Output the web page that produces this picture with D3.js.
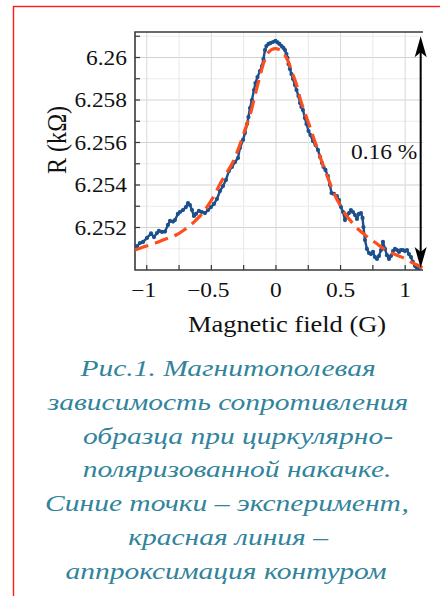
<!DOCTYPE html>
<html>
<head>
<meta charset="utf-8">
<script src="https://cdn.jsdelivr.net/npm/d3@7"></script>
<style>
  html, body { margin: 0; padding: 0; background: #ffffff; }
  svg { display: block; }
  svg text { font-family: "Liberation Serif", "Times New Roman", serif; }
</style>
</head>
<body>
<svg id="chart" width="440" height="596"></svg>
<script>
// Measured magnetoresistance: field (G) and resistance (kΩ)
const fieldData = [-1.091,-1.076,-1.053,-1.029,-0.998,-0.967,-0.944,-0.921,-0.906,-0.882,-0.859,-0.836,-0.820,-0.797,-0.782,-0.759,-0.743,-0.720,-0.697,-0.681,-0.666,-0.650,-0.635,-0.619,-0.596,-0.573,-0.550,-0.526,-0.503,-0.480,-0.457,-0.433,-0.410,-0.387,-0.364,-0.341,-0.317,-0.294,-0.279,-0.255,-0.240,-0.224,-0.213,-0.201,-0.186,-0.170,-0.159,-0.143,-0.124,-0.108,-0.097,-0.085,-0.074,-0.058,-0.043,-0.023,-0.004,0.012,0.027,0.043,0.058,0.070,0.081,0.089,0.097,0.108,0.120,0.132,0.147,0.159,0.174,0.186,0.197,0.209,0.224,0.236,0.252,0.267,0.286,0.306,0.325,0.341,0.356,0.368,0.383,0.402,0.418,0.430,0.449,0.472,0.488,0.503,0.519,0.534,0.550,0.565,0.580,0.596,0.611,0.627,0.642,0.658,0.670,0.677,0.689,0.704,0.720,0.735,0.751,0.766,0.782,0.797,0.813,0.828,0.844,0.859,0.875,0.890,0.906,0.921,0.937,0.952,0.967,0.983,0.998,1.014,1.029,1.045,1.060,1.076,1.091,1.107];
const resistData = [6.25113,6.25111,6.25127,6.25132,6.25151,6.25172,6.25155,6.25174,6.25184,6.25179,6.25181,6.25212,6.25231,6.25228,6.25235,6.25264,6.25273,6.25282,6.25296,6.25315,6.25306,6.25282,6.25254,6.25264,6.25278,6.25273,6.25268,6.25282,6.25296,6.25311,6.25334,6.25372,6.25395,6.25424,6.25466,6.25485,6.25508,6.25527,6.25574,6.25612,6.25645,6.25687,6.25720,6.25762,6.25800,6.25847,6.25880,6.25908,6.25936,6.25960,6.25993,6.26035,6.26054,6.26064,6.26068,6.26073,6.26078,6.26071,6.26064,6.26054,6.26045,6.26035,6.26016,6.25998,6.25969,6.25946,6.25922,6.25899,6.25871,6.25847,6.25819,6.25786,6.25767,6.25753,6.25715,6.25687,6.25654,6.25635,6.25607,6.25588,6.25565,6.25532,6.25504,6.25485,6.25471,6.25442,6.25400,6.25362,6.25358,6.25348,6.25329,6.25296,6.25273,6.25235,6.25254,6.25268,6.25282,6.25273,6.25259,6.25240,6.25264,6.25268,6.25245,6.25202,6.25141,6.25099,6.25080,6.25075,6.25085,6.25061,6.25052,6.25066,6.25094,6.25132,6.25099,6.25070,6.25052,6.25066,6.25089,6.25099,6.25094,6.25085,6.25094,6.25094,6.25089,6.25094,6.25075,6.25061,6.25038,6.25019,6.25009,6.25000];

// Lorentz-contour approximation
const fitField = [-1.091,-1.037,-0.975,-0.921,-0.875,-0.820,-0.766,-0.712,-0.666,-0.619,-0.573,-0.526,-0.480,-0.433,-0.387,-0.341,-0.294,-0.248,-0.201,-0.163,-0.124,-0.093,-0.062,-0.031,0,0.031,0.062,0.093,0.124,0.155,0.186,0.224,0.263,0.310,0.356,0.402,0.449,0.495,0.542,0.588,0.635,0.681,0.728,0.774,0.820,0.867,0.913,0.960,1.006,1.053,1.099,1.138];
const fitResist = [6.25094,6.25106,6.25118,6.25129,6.25141,6.25153,6.25167,6.25188,6.25209,6.25235,6.25264,6.25304,6.25348,6.25405,6.25452,6.25499,6.25565,6.25645,6.25729,6.25819,6.25913,6.25979,6.26021,6.26038,6.26042,6.26035,6.26016,6.25984,6.25932,6.25880,6.25809,6.25739,6.25673,6.25588,6.25508,6.25433,6.25362,6.25306,6.25259,6.25224,6.25193,6.25169,6.25146,6.25127,6.25106,6.25089,6.25075,6.25064,6.25052,6.25035,6.25021,6.25009];

// Axis ticks
const xMajorTicks = [-1, -0.5, 0, 0.5, 1];
const xTickLabels = ["\u22121", "\u22120.5", "0", "0.5", "1"];
const xMinorTicks = [-0.75, -0.25, 0.25, 0.75];
const yMajorTicks = [6.252, 6.254, 6.256, 6.258, 6.26];
const yTickLabels = ["6.252", "6.254", "6.256", "6.258", "6.26"];
const yMinorTicks = [6.251, 6.253, 6.255, 6.257, 6.259, 6.261];

// Amplitude marker
const ampField = 1.12;
const ampRange = [6.2501, 6.2610];
const ampLabel = "0.16 %";

const captionLines = [
  "Рис.1. Магнитополевая",
  "зависимость сопротивления",
  "образца при циркулярно-",
  "поляризованной накачке.",
  "Синие точки – эксперимент,",
  "красная линия –",
  "аппроксимация контуром"
];

const svg = d3.select("#chart");

svg.append("rect").attr("width", 440).attr("height", 596).attr("fill", "#ffffff");

// frame around the figure
svg.append("rect")
  .attr("x", 13.5).attr("y", 6.5).attr("width", 600).attr("height", 700)
  .attr("fill", "none").attr("stroke", "#ff1a1a").attr("stroke-width", 1.4);

const plot = { left: 135, right: 423, top: 32, bottom: 270 };
const x = d3.scaleLinear().domain([-1.091, 1.138]).range([plot.left, plot.right]);
const y = d3.scaleLinear().domain([6.25, 6.2612]).range([plot.bottom, plot.top]);

const g = svg.append("g");

// grid
g.selectAll(".gy-minor").data(yMinorTicks).join("line")
  .attr("x1", plot.left).attr("x2", plot.right)
  .attr("y1", d => y(d)).attr("y2", d => y(d))
  .attr("stroke", "#ebebeb").attr("stroke-width", 1);
g.selectAll(".gy-major").data(yMajorTicks).join("line")
  .attr("x1", plot.left).attr("x2", plot.right)
  .attr("y1", d => y(d)).attr("y2", d => y(d))
  .attr("stroke", "#d2d2d2").attr("stroke-width", 1);
g.selectAll(".gx-minor").data(xMinorTicks).join("line")
  .attr("x1", d => x(d)).attr("x2", d => x(d))
  .attr("y1", plot.top).attr("y2", plot.bottom)
  .attr("stroke", "#e8e8e8").attr("stroke-width", 1);
g.selectAll(".gx-major").data(xMajorTicks).join("line")
  .attr("x1", d => x(d)).attr("x2", d => x(d))
  .attr("y1", plot.top).attr("y2", plot.bottom)
  .attr("stroke", "#dadada").attr("stroke-width", 1);

// ticks pointing inward
const tickCol = "#333333";
g.selectAll(".ty").data(yMajorTicks.concat(yMinorTicks)).join("line")
  .attr("x1", plot.left).attr("x2", plot.left + 5)
  .attr("y1", d => y(d)).attr("y2", d => y(d))
  .attr("stroke", tickCol).attr("stroke-width", 1.2);
g.selectAll(".tx").data(xMajorTicks.concat(xMinorTicks)).join("line")
  .attr("x1", d => x(d)).attr("x2", d => x(d))
  .attr("y1", plot.bottom).attr("y2", plot.bottom - 5)
  .attr("stroke", tickCol).attr("stroke-width", 1.2);

// spines (top, left, bottom)
g.append("path")
  .attr("d", `M${plot.right},${plot.top}H${plot.left}V${plot.bottom}H${plot.right}`)
  .attr("fill", "none").attr("stroke", "#3a3a3a").attr("stroke-width", 1.6);

// text helper, glyphs slightly widened
function label(parent, tx, ty, txt, size, anchor, sx) {
  return parent.append("text")
    .attr("transform", `translate(${tx},${ty}) scale(${sx},1)`)
    .attr("text-anchor", anchor)
    .attr("font-size", size)
    .attr("fill", "#111")
    .text(txt);
}
yMajorTicks.forEach((v, i) => label(g, 127, y(v) + 7, yTickLabels[i], 20, "end", 1.17));
xMajorTicks.forEach((v, i) => label(g, x(v) - (v < 0 ? 3 : 0), 297, xTickLabels[i], 20, "middle", 1.17));

// axis titles
label(g, 287, 332, "Magnetic field (G)", 23, "middle", 1.15);
g.append("text")
  .attr("transform", "translate(66,140) rotate(-90) scale(1.05,1.15)")
  .attr("text-anchor", "middle")
  .attr("font-size", 23).attr("fill", "#111")
  .text("R (k\u03A9)");

// clip marks to the axes area
svg.append("clipPath").attr("id", "clip")
  .append("rect").attr("x", plot.left).attr("y", plot.top)
  .attr("width", plot.right - plot.left).attr("height", plot.bottom - plot.top);

const marks = g.append("g").attr("clip-path", "url(#clip)");
const blue = "#1c4f8b";
const pts = fieldData.map((f, i) => [f, resistData[i]]);
marks.append("path")
  .datum(pts)
  .attr("d", d3.line().x(d => x(d[0])).y(d => y(d[1])))
  .attr("fill", "none").attr("stroke", blue).attr("stroke-width", 2.4)
  .attr("stroke-linejoin", "round");
marks.selectAll(".pt").data(pts).join("circle")
  .attr("cx", d => x(d[0])).attr("cy", d => y(d[1]))
  .attr("r", 2.1).attr("fill", blue);

const fit = fitField.map((f, i) => [f, fitResist[i]]);
marks.append("path")
  .datum(fit)
  .attr("d", d3.line().curve(d3.curveCatmullRom).x(d => x(d[0])).y(d => y(d[1])))
  .attr("fill", "none").attr("stroke", "#fd4f1d").attr("stroke-width", 3.2)
  .attr("stroke-dasharray", "14,7");

// amplitude arrow
const ax = x(ampField);
const yTop = y(ampRange[1]), yBot = y(ampRange[0]);
g.append("line").attr("x1", ax).attr("x2", ax).attr("y1", yTop + 10).attr("y2", yBot - 10)
  .attr("stroke", "#000").attr("stroke-width", 2);
function head(tipY, dir) {
  g.append("path")
    .attr("d", `M${ax},${tipY} L${ax - 6},${tipY + dir * 21} L${ax},${tipY + dir * 16} L${ax + 6},${tipY + dir * 21} Z`)
    .attr("fill", "#000");
}
head(yTop, 1);
head(yBot, -1);
label(g, 351, 159, ampLabel, 20, "start", 1.17);

// caption, centred line by line
const captionX = [228, 228, 238, 237, 227, 228, 226];
const cap = svg.append("g");
captionLines.forEach((t, i) => {
  cap.append("text")
    .attr("transform", `translate(${captionX[i]},${376 + i * 33.8}) scale(1.23,1)`)
    .attr("text-anchor", "middle")
    .attr("font-style", "italic")
    .attr("font-size", 24).attr("fill", "#31849b")
    .text(t);
});
</script>
</body>
</html>
